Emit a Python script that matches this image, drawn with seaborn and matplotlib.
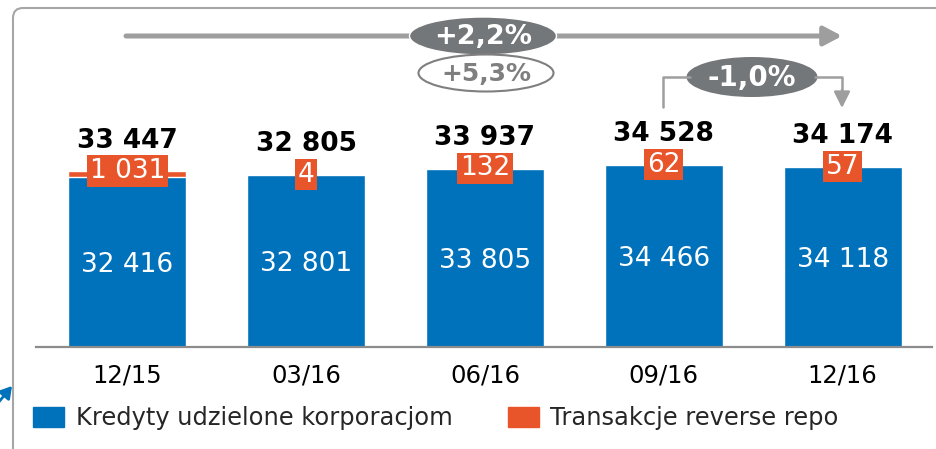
import matplotlib
matplotlib.use("Agg")
import matplotlib.pyplot as plt
import matplotlib.transforms as mtransforms
from matplotlib.patches import Ellipse, FancyArrowPatch, FancyBboxPatch, Patch
from matplotlib.lines import Line2D
import seaborn as sns

okresy = ['12/15', '03/16', '06/16', '09/16', '12/16']
kredyty = [32416, 32801, 33805, 34466, 34118]
reverse_repo = [1031, 4, 132, 62, 57]
razem = [33447, 32805, 33937, 34528, 34174]
zmiana_rok = '+2,2%'
zmiana_rok_bez_repo = '+5,3%'
zmiana_kw = '-1,0%'

BLUE = '#0071BB'
ORANGE = '#E9552B'
DARK = '#737779'
ARROW = '#9E9E9E'

sns.set_style('white')
plt.rcParams['font.family'] = ['DejaVu Sans']


def fmt(v):
    return f'{v:,}'.replace(',', ' ')


fig = plt.figure(figsize=(9.37, 4.49), dpi=100)
# pixel transform, origin top-left
pxt = mtransforms.Affine2D().scale(1 / 937, -1 / 449).translate(0, 1) + fig.transFigure

ax = fig.add_axes([36 / 937, 1 - 347 / 449, 896 / 937, 347 / 449])
y0 = 3400
stos = [k + r for k, r in zip(kredyty, reverse_repo)]

sns.barplot(x=okresy, y=stos, color=ORANGE, saturation=1, width=0.66,
            edgecolor='white', linewidth=1, ax=ax)
sns.barplot(x=okresy, y=kredyty, color=BLUE, saturation=1, width=0.66,
            edgecolor='white', linewidth=1, ax=ax)

ax.set_ylim(y0, y0 + 347 * 170.8)
ax.set_xlim(-0.51, 4.5)
ax.set_yticks([])
ax.set_xlabel('')
ax.set_ylabel('')
for s in ['top', 'left', 'right']:
    ax.spines[s].set_visible(False)
ax.spines['bottom'].set_color('#8C8C8C')
ax.spines['bottom'].set_linewidth(1.6)
ax.tick_params(axis='x', length=0, pad=12, labelsize=17.5, labelcolor='black')

for i in range(len(okresy)):
    ax.text(i, (y0 + kredyty[i]) / 2, fmt(kredyty[i]), color='white',
            fontsize=19, ha='center', va='center_baseline')
    ax.text(i, stos[i], fmt(reverse_repo[i]), color='white', fontsize=19,
            ha='center', va='center', zorder=5,
            bbox=dict(boxstyle='square,pad=0.1', fc=ORANGE, ec='none'))
    ax.annotate(fmt(razem[i]), (i, stos[i]), xytext=(0, 22), textcoords='offset points',
                ha='center', va='center', fontsize=19, fontweight='bold', color='black')

# frame
fig.add_artist(FancyBboxPatch((13, 8), 1000, 500, boxstyle='round,pad=0,rounding_size=10',
                              transform=pxt, fc='none', ec='#A6A6A6', lw=1.5))

# long arrow
fig.add_artist(FancyArrowPatch((126, 36), (842, 36), transform=pxt,
                               arrowstyle='-|>,head_length=0.6,head_width=0.32',
                               mutation_scale=18, color=ARROW, lw=3.6, shrinkA=0, shrinkB=0))
fig.add_artist(Ellipse((483, 36), 147, 38, transform=pxt, fc=DARK, ec='white', lw=1))
fig.text(483 / 937, 1 - 37 / 449, zmiana_rok, color='white', fontsize=19.5,
         fontweight='bold', ha='center', va='center')
fig.add_artist(Ellipse((486, 73), 135, 37, transform=pxt, fc='white', ec='#7F7F7F', lw=1.5))
fig.text(486 / 937, 1 - 74 / 449, zmiana_rok_bez_repo, color='#7F7F7F', fontsize=18,
         fontweight='bold', ha='center', va='center')

# quarter bracket
fig.add_artist(Line2D([663, 663, 690], [107, 77, 77], transform=pxt, color=ARROW, lw=1.8))
fig.add_artist(Line2D([815, 842, 842], [77, 77, 95], transform=pxt, color=ARROW, lw=1.8))
fig.add_artist(FancyArrowPatch((842, 90), (842, 108), transform=pxt,
                               arrowstyle='-|>,head_length=0.7,head_width=0.35',
                               mutation_scale=14, color=ARROW, lw=1.8, shrinkA=0, shrinkB=0))
fig.add_artist(Ellipse((752, 77), 131, 40, transform=pxt, fc=DARK, ec='none'))
fig.text(752 / 937, 1 - 78 / 449, zmiana_kw, color='white', fontsize=20,
         fontweight='bold', ha='center', va='center')

# small blue arrow at left edge
fig.add_artist(FancyArrowPatch((-2, 403), (12, 386), transform=pxt,
                               arrowstyle='-|>,head_length=0.5,head_width=0.3',
                               mutation_scale=14, color=BLUE, lw=2, shrinkA=0, shrinkB=0))

handles = [Patch(color=BLUE), Patch(color=ORANGE)]
fig.legend(handles, ['Kredyty udzielone korporacjom', 'Transakcje reverse repo'],
           loc='center left', bbox_to_anchor=(33 / 937, 1 - 418 / 449), ncol=2,
           frameon=False, fontsize=17.4, labelcolor='#262626', handlelength=1.28,
           handleheight=0.91, handletextpad=0.48, columnspacing=2.3,
           borderpad=0, borderaxespad=0)

fig.savefig('out.png', dpi=100)
